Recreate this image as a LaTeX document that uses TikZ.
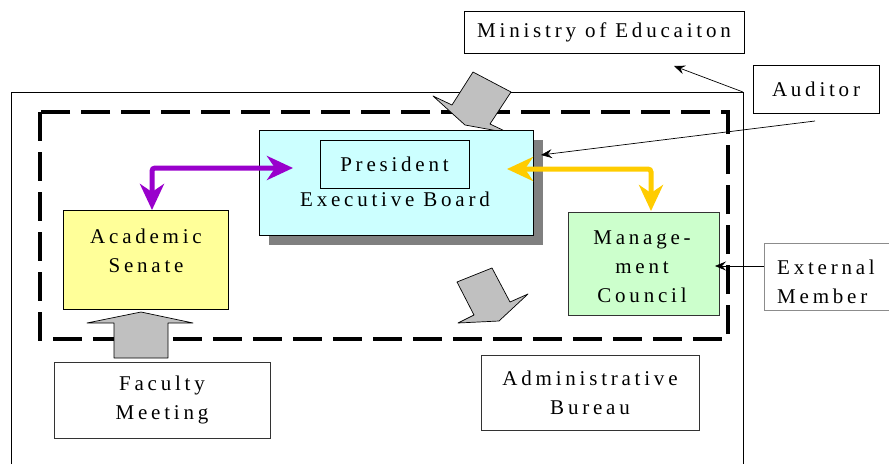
\documentclass[tikz,border=0pt]{standalone}
\usepackage{fontspec}
\setmainfont{Liberation Serif}[LetterSpace=18]
\usetikzlibrary{arrows.meta}

\definecolor{boardcyan}{HTML}{CCFFFF}
\definecolor{senateyellow}{HTML}{FFFF99}
\definecolor{councilgreen}{HTML}{CCFFCC}
\definecolor{blockgray}{HTML}{C0C0C0}
\definecolor{shadowgray}{HTML}{808080}
\definecolor{linkpurple}{HTML}{9900CC}
\definecolor{linkgold}{HTML}{FFCC00}

\tikzset{
  box/.style={draw=black, line width=0.6pt, fill=white, inner sep=0pt, align=center},
  lbl/.style={inner sep=0pt, align=center},
  thicklink/.style={line width=5pt, rounded corners=3pt,
    {Stealth[length=26pt,width=24pt,inset=8pt]}-{Stealth[length=26pt,width=24pt,inset=8pt]}},
  thinlink/.style={line width=0.7pt, -{Stealth[length=11pt,width=9pt,inset=4pt]}},
  blockarrow/.style={fill=blockgray, draw=black, line width=0.7pt, line join=round}
}

\begin{document}
\begin{tikzpicture}[x=1pt,y=-1pt, font=\fontsize{21}{29}\selectfont]
\useasboundingbox (0,0) rectangle (889,464);

% outer institution frame (open at the bottom)
\draw[line width=0.7pt] (11,464) -- (11,92) coordinate (frameTL) -- (743,92) coordinate (frameTR) -- (743,464);

% dashed boundary around the governing bodies
\draw[line width=3.5pt, dash pattern=on 29pt off 11pt] (40,112) rectangle (728,339);

% top block arrow into the board
\draw[blockarrow] (473,72) -- (511,92) -- (490,124) -- (509,133) -- (465,125) -- (433,96) -- (452,105) -- cycle;

% president / executive board with drop shadow
\node[fill=shadowgray, minimum width=274pt, minimum height=105pt, inner sep=0pt] (boardshadow) at (406,192.5) {};
\node[box, fill=boardcyan, minimum width=274pt, minimum height=105pt] (board) at (396,182.5) {};
\node[box, fill=none, minimum width=149pt, minimum height=48pt] (president) at (394.5,164) {President};
\node[lbl] (boardtext) at (395,199) {Executive Board};

% academic senate
\node[box, fill=senateyellow, minimum width=165pt, minimum height=99pt] (senate) at (145.5,259.5) {};
\node[lbl] (senatetext) at (146,250.5) {Academic\\Senate};

% management council
\node[box, draw=black!80, fill=councilgreen, minimum width=151pt, minimum height=103pt] (council) at (643.5,263.5) {};
\node[lbl] (counciltext) at (642,267) {Manage-\\ment\\Council};

% lower block arrow toward the bureau
\draw[blockarrow] (492,268) -- (457,282) -- (474,315) -- (458,323) -- (499,321) -- (528,294) -- (510,302) -- cycle;

% upward block arrow from faculty meeting
\draw[blockarrow] (114,358) -- (114,323) -- (87,323) -- (141,312) -- (193,323) -- (168,323) -- (168,358) -- cycle;

% outside boxes
\node[box, draw=black!80, minimum width=216pt, minimum height=76pt] (faculty) at (162,400) {Faculty\\Meeting};
\node[box, draw=black!80, minimum width=218pt, minimum height=75pt] (bureau) at (590,392.5) {Administrative\\Bureau};
\node[box, minimum width=280pt, minimum height=42pt] (ministry) at (604,32) {Ministry of Educaiton};
\node[box, minimum width=126pt, minimum height=48pt] (auditor) at (816,89) {Auditor};
\node[box, draw=black!45, minimum width=125pt, minimum height=67pt] (external) at (826.5,276.5) {};
\node[lbl, align=left, anchor=west] (externaltext) at (777,282) {External\\Member};

% thick two-way links
\coordinate (senateTip) at (152,210);
\coordinate (boardLeftTip) at (293,168);
\draw[thicklink, linkpurple] (boardLeftTip) -| (senateTip);
\coordinate (boardRightTip) at (507,169);
\coordinate (councilTip) at (651,211);
\draw[thicklink, linkgold] (boardRightTip) -| (councilTip);

% thin links
\coordinate (auditStart) at (815,121);
\coordinate (auditEnd) at (541,155);
\draw[thinlink] (auditStart) -- (auditEnd);
\coordinate (ministryTarget) at (674,66);
\draw[thinlink] (frameTR) -- (ministryTarget);
\coordinate (councilIn) at (715,266);
\draw[thinlink] (external.west |- councilIn) -- (councilIn);
\end{tikzpicture}
\end{document}
